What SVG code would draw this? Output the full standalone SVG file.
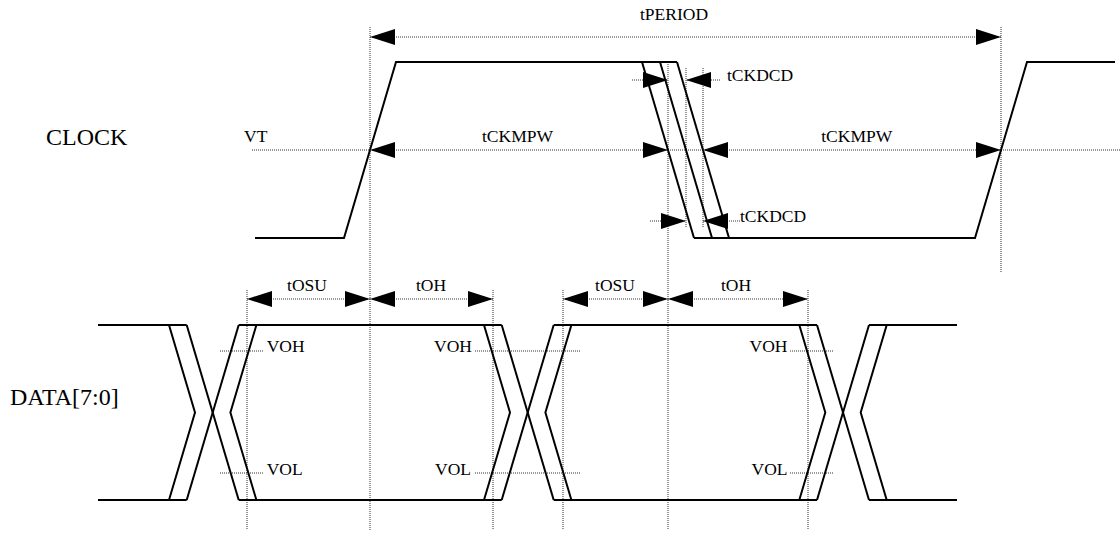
<svg xmlns="http://www.w3.org/2000/svg" width="1120" height="533" viewBox="0 0 1120 533">
<defs>
<marker id="ah" markerUnits="userSpaceOnUse" markerWidth="26" markerHeight="17" refX="25" refY="8" orient="auto-start-reverse" viewBox="0 0 26 17">
<path d="M0,0 L25,8 L0,16 Z" fill="#000"/>
</marker>
</defs>
<style>
.sig{fill:none;stroke:#000;stroke-width:2;stroke-linejoin:miter}
.dot{fill:none;stroke:#333;stroke-width:1;stroke-dasharray:1 1}
.dim{fill:none;stroke:#333;stroke-width:1;stroke-dasharray:1 1}
.arr2{marker-start:url(#ah);marker-end:url(#ah)}
.arr1{marker-end:url(#ah)}
.lbl{font-family:"Liberation Serif","Times New Roman",serif;font-size:17.5px;fill:#000}
.big{font-family:"Liberation Serif","Times New Roman",serif;font-size:24px;fill:#000}
</style>
<rect width="1120" height="533" fill="#fff"/>

<g id="guides">
<line class="dot" x1="370" y1="27" x2="370" y2="530"/>
<line class="dot" x1="1001" y1="27" x2="1001" y2="272"/>
<line class="dot" x1="668" y1="62" x2="668" y2="530"/>
<line class="dot" x1="686" y1="68" x2="686" y2="228"/>
<line class="dot" x1="703" y1="68" x2="703" y2="228"/>
<line class="dot" x1="252" y1="150" x2="370" y2="150"/>
<line class="dot" x1="668" y1="150" x2="703" y2="150"/>
<line class="dot" x1="1001" y1="150" x2="1120" y2="150"/>
<line class="dot" x1="247" y1="290" x2="247" y2="530"/>
<line class="dot" x1="493" y1="290" x2="493" y2="530"/>
<line class="dot" x1="563" y1="290" x2="563" y2="530"/>
<line class="dot" x1="808" y1="290" x2="808" y2="530"/>
<line class="dot" x1="220" y1="351" x2="263" y2="351"/>
<line class="dot" x1="220" y1="473" x2="263" y2="473"/>
<line class="dot" x1="475" y1="351" x2="580" y2="351"/>
<line class="dot" x1="475" y1="473" x2="580" y2="473"/>
<line class="dot" x1="790" y1="351" x2="834" y2="351"/>
<line class="dot" x1="790" y1="473" x2="834" y2="473"/>
</g>

<g id="clock-label"><text class="big" x="46" y="145">CLOCK</text></g>
<g id="data-label"><text class="big" x="10" y="405">DATA[7:0]</text></g>

<g id="clock-wave">
<polyline class="sig" points="255,238 344,238 396,62 677,62"/>
<line class="sig" x1="642" y1="62" x2="694" y2="238"/>
<line class="sig" x1="660" y1="62" x2="712" y2="238"/>
<line class="sig" x1="677" y1="62" x2="729" y2="238"/>
<polyline class="sig" points="694,238 975,238 1027,62 1115,62"/>
</g>

<g id="data-wave">
<line class="sig" x1="98" y1="325" x2="186.7" y2="325"/>
<line class="sig" x1="98" y1="500" x2="186.7" y2="500"/>
<polyline class="sig" points="169,325 195,412.5 169,500"/>
<line class="sig" x1="186.7" y1="325" x2="238.7" y2="500"/>
<line class="sig" x1="186.7" y1="500" x2="238.7" y2="325"/>
<polyline class="sig" points="256.4,325 230.4,412.5 256.4,500"/>
<line class="sig" x1="238.7" y1="325" x2="501.7" y2="325"/>
<line class="sig" x1="238.7" y1="500" x2="501.7" y2="500"/>
<polyline class="sig" points="484,325 510,412.5 484,500"/>
<line class="sig" x1="501.7" y1="325" x2="553.7" y2="500"/>
<line class="sig" x1="501.7" y1="500" x2="553.7" y2="325"/>
<polyline class="sig" points="571.4,325 545.4,412.5 571.4,500"/>
<line class="sig" x1="553.7" y1="325" x2="817" y2="325"/>
<line class="sig" x1="553.7" y1="500" x2="817" y2="500"/>
<polyline class="sig" points="799.3,325 825.3,412.5 799.3,500"/>
<line class="sig" x1="817" y1="325" x2="869" y2="500"/>
<line class="sig" x1="817" y1="500" x2="869" y2="325"/>
<polyline class="sig" points="886.7,325 860.7,412.5 886.7,500"/>
<line class="sig" x1="869" y1="325" x2="957" y2="325"/>
<line class="sig" x1="869" y1="500" x2="957" y2="500"/>
</g>

<g id="connectors">
<line class="dim arr2" x1="370" y1="37" x2="1001" y2="37"/>
<line class="dim arr2" x1="370" y1="150" x2="668" y2="150"/>
<line class="dim arr2" x1="703" y1="150" x2="1001" y2="150"/>
<line class="dim arr1" x1="632" y1="80" x2="668" y2="80"/>
<line class="dim arr1" x1="720" y1="80" x2="686" y2="80"/>
<line class="dim arr1" x1="650" y1="221" x2="686" y2="221"/>
<line class="dim arr1" x1="740" y1="221" x2="703" y2="221"/>
<line class="dim arr2" x1="247" y1="299" x2="370" y2="299"/>
<line class="dim arr2" x1="370" y1="299" x2="493" y2="299"/>
<line class="dim arr2" x1="563" y1="299" x2="668" y2="299"/>
<line class="dim arr2" x1="668" y1="299" x2="808" y2="299"/>
</g>

<g id="labels">
<text class="lbl" x="674" y="20" text-anchor="middle">tPERIOD</text>
<text class="lbl" x="244" y="142">VT</text>
<text class="lbl" x="517.5" y="142" text-anchor="middle">tCKMPW</text>
<text class="lbl" x="856.7" y="142" text-anchor="middle">tCKMPW</text>
<text class="lbl" x="727" y="81">tCKDCD</text>
<text class="lbl" x="740" y="222">tCKDCD</text>
<text class="lbl" x="307" y="291" text-anchor="middle">tOSU</text>
<text class="lbl" x="431" y="291" text-anchor="middle">tOH</text>
<text class="lbl" x="615" y="291" text-anchor="middle">tOSU</text>
<text class="lbl" x="736" y="291" text-anchor="middle">tOH</text>
<text class="lbl" x="266.7" y="352">VOH</text>
<text class="lbl" x="266.7" y="475">VOL</text>
<text class="lbl" x="472" y="352" text-anchor="end">VOH</text>
<text class="lbl" x="471" y="475" text-anchor="end">VOL</text>
<text class="lbl" x="787.5" y="352" text-anchor="end">VOH</text>
<text class="lbl" x="787.5" y="475" text-anchor="end">VOL</text>
</g>
</svg>
